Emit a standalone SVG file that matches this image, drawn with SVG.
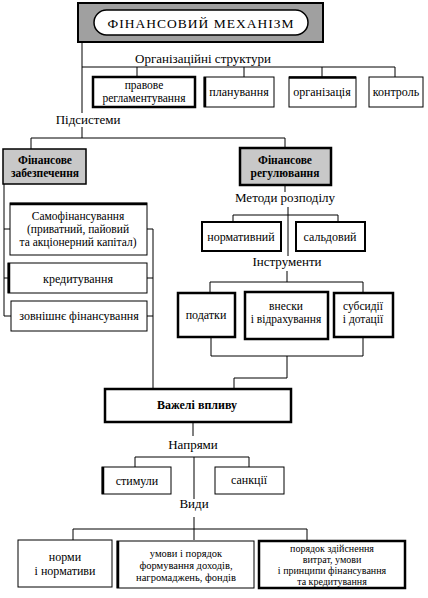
<svg xmlns="http://www.w3.org/2000/svg" width="428" height="598" viewBox="0 0 428 598">
<style>
text{font-family:"Liberation Serif",serif;font-size:12px;fill:#000;text-anchor:middle}
.lbl{font-size:13px}
.b{font-weight:bold;font-size:11.5px}
.s{font-size:10.5px}
.xs{font-size:10px}
.m{font-size:11.5px}
.box{fill:#fff;stroke:#000;stroke-width:1}
.thick{fill:#fff;stroke:#000;stroke-width:2.5}
.mid{fill:#fff;stroke:#000;stroke-width:2}
.grey{fill:#c8c8c8;stroke:#000;stroke-width:1.5}
.greyk{fill:#c8c8c8;stroke:#000;stroke-width:2.5}
.edge{stroke:#000;stroke-width:2.5;fill:none}
#connectors line,#connectors polyline{stroke:#000;stroke-width:1;fill:none}
</style>
<rect width="428" height="598" fill="#fff"/>
<g id="connectors">
<line x1="82" y1="42" x2="82" y2="113"/>
<line x1="82" y1="127" x2="82" y2="138"/>
<line x1="82" y1="67" x2="395" y2="67"/>
<line x1="137" y1="67" x2="137" y2="77"/>
<line x1="244" y1="67" x2="244" y2="77"/>
<line x1="322" y1="67" x2="322" y2="77"/>
<line x1="395" y1="67" x2="395" y2="77"/>
<polyline points="31,149 31,138 285,138 285,148"/>
<line x1="4" y1="184" x2="4" y2="316"/>
<line x1="4" y1="229" x2="10" y2="229"/>
<line x1="4" y1="278" x2="8" y2="278"/>
<line x1="4" y1="316" x2="11" y2="316"/>
<line x1="153" y1="229" x2="153" y2="388"/>
<line x1="147" y1="229" x2="153" y2="229"/>
<line x1="147" y1="278" x2="153" y2="278"/>
<line x1="147" y1="316" x2="153" y2="316"/>
<line x1="285" y1="186" x2="285" y2="192"/>
<line x1="288" y1="207" x2="288" y2="256"/>
<polyline points="233,222 233,215 338,215 338,222"/>
<line x1="287" y1="271" x2="287" y2="282"/>
<polyline points="210,293 210,282 363,282 363,293"/>
<polyline points="211,337 211,356 363,356 363,337"/>
<polyline points="287,356 287,378 234,378 234,388"/>
<line x1="193" y1="422" x2="193" y2="436"/>
<polyline points="135,467 135,457 249,457 249,467"/>
<line x1="194" y1="457" x2="194" y2="499"/>
<line x1="194" y1="517" x2="194" y2="540"/>
<polyline points="73,540 73,529 307,529 307,541"/>
</g>
<g id="title">
<rect x="78" y="3" width="245" height="39" fill="#a0a0a0" stroke="#000" stroke-width="2"/>
<rect x="94" y="10" width="214" height="25" rx="12.5" fill="#fff" stroke="#000" stroke-width="1.5"/>
<text x="201" y="28" style="font-size:13.5px;letter-spacing:1px">ФІНАНСОВИЙ МЕХАНІЗМ</text>
</g>
<text class="lbl" x="203" y="63">Організаційні структури</text>
<g id="n-pravove">
<rect class="thick" x="93" y="77" width="102" height="30"/>
<text class="m" x="144" y="89">правове</text>
<text class="m" x="144" y="102">регламентування</text>
</g>
<g id="n-planuvannia">
<rect class="box" x="204" y="77" width="70" height="30"/>
<line class="edge" x1="205" y1="77" x2="205" y2="107"/>
<text x="239" y="96">планування</text>
</g>
<g id="n-organizatsiia">
<rect class="box" x="289" y="77" width="67" height="30"/>
<line class="edge" x1="289" y1="77.5" x2="356" y2="77.5"/>
<text x="322" y="96">організація</text>
</g>
<g id="n-kontrol">
<rect class="box" x="369" y="77" width="54" height="30"/>
<text x="396" y="96">контроль</text>
</g>
<text class="lbl" x="88" y="124">Підсистеми</text>
<g id="n-zabezpechennia">
<rect class="grey" x="3" y="149" width="83" height="35"/>
<text class="b" x="45" y="164">Фінансове</text>
<text class="b" x="45" y="177">забезпечення</text>
</g>
<g id="n-rehuliuvannia">
<rect class="greyk" x="240" y="148" width="91" height="37"/>
<text class="b" x="285" y="164">Фінансове</text>
<text class="b" x="285" y="177">регулювання</text>
</g>
<g id="n-samofinansuvannia">
<rect class="box" x="10" y="203" width="137" height="52"/>
<line class="edge" x1="10" y1="204" x2="147" y2="204"/>
<text class="m" x="78" y="220">Самофінансування</text>
<text class="m" x="78" y="233">(приватний, пайовий</text>
<text class="m" x="78" y="246">та акціонерний капітал)</text>
</g>
<g id="n-kredytuvannia">
<rect class="box" x="8" y="263" width="139" height="30"/>
<line class="edge" x1="9" y1="263" x2="9" y2="293"/>
<text x="78" y="283">кредитування</text>
</g>
<g id="n-zovnishnie">
<rect class="box" x="11" y="301" width="136" height="30"/>
<text x="79" y="320">зовнішнє фінансування</text>
</g>
<text class="lbl" x="285" y="202">Методи розподілу</text>
<g id="n-normatyvnyi">
<rect class="mid" x="202" y="222" width="79" height="29"/>
<text x="241" y="241">нормативний</text>
</g>
<g id="n-saldovyi">
<rect class="mid" x="296" y="222" width="69" height="29"/>
<text x="330" y="241">сальдовий</text>
</g>
<text class="lbl" x="287" y="266">Інструменти</text>
<g id="n-podatky">
<rect class="thick" x="178" y="293" width="57" height="44"/>
<text x="206" y="319">податки</text>
</g>
<g id="n-vnesky">
<rect class="thick" x="245" y="292" width="83" height="47"/>
<text class="m" x="286" y="310">внески</text>
<text class="m" x="286" y="323">і відрахування</text>
</g>
<g id="n-subsydii">
<rect class="thick" x="334" y="293" width="59" height="44"/>
<text class="m" x="363" y="310">субсидії</text>
<text class="m" x="363" y="323">і дотації</text>
</g>
<g id="n-vazheli">
<rect class="thick" x="105" y="389" width="186" height="33"/>
<text class="b" x="197" y="409" style="font-size:12px">Важелі впливу</text>
</g>
<text class="lbl" x="193" y="449">Напрями</text>
<g id="n-stymuly">
<rect class="box" x="102" y="467" width="69" height="27"/>
<line class="edge" x1="103" y1="467" x2="103" y2="494"/>
<text x="137" y="485">стимули</text>
</g>
<g id="n-sanktsii">
<rect class="box" x="215" y="467" width="69" height="27"/>
<text x="249" y="484">санкції</text>
</g>
<text class="lbl" x="194" y="508">Види</text>
<g id="n-normy">
<rect class="box" x="18" y="540" width="94" height="47"/>
<text x="65" y="561">норми</text>
<text x="65" y="575">і нормативи</text>
</g>
<g id="n-umovy">
<rect class="box" x="117" y="541" width="137" height="47"/>
<line class="edge" x1="118" y1="541" x2="118" y2="588"/>
<text class="s" x="186" y="557">умови і порядок</text>
<text class="s" x="186" y="569">формування доходів,</text>
<text class="s" x="186" y="581">нагромаджень, фондів</text>
</g>
<g id="n-poriadok">
<rect class="thick" x="259" y="541" width="146" height="47"/>
<text class="xs" x="332" y="552">порядок здійснення</text>
<text class="xs" x="332" y="563">витрат, умови</text>
<text class="xs" x="332" y="574">і принципи фінансування</text>
<text class="xs" x="332" y="585">та кредитування</text>
</g>
</svg>
